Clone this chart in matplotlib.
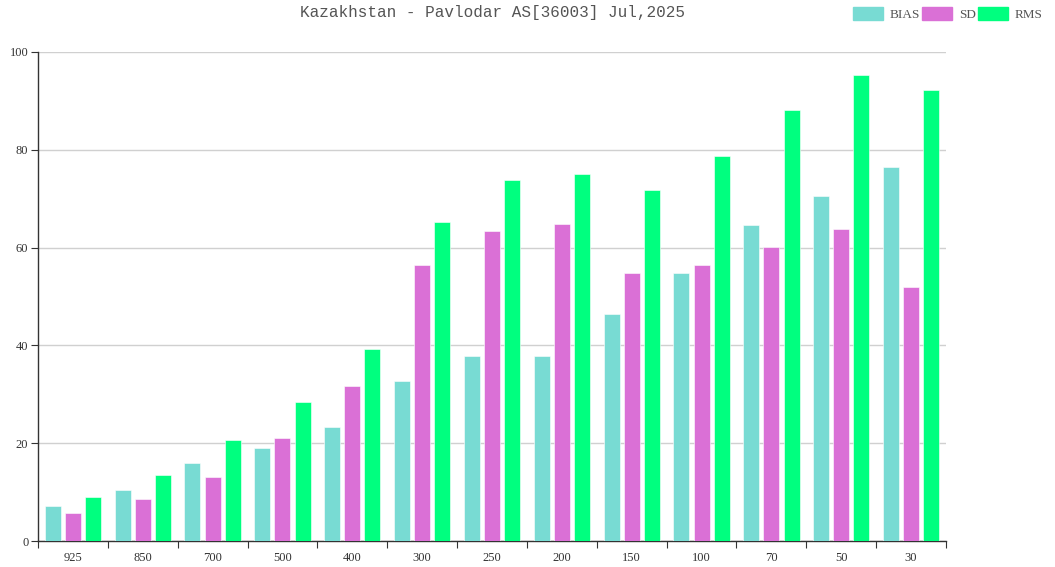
import numpy as np
import matplotlib
matplotlib.use("Agg")
import matplotlib.pyplot as plt
from matplotlib.patches import Patch

levels = ["925", "850", "700", "500", "400", "300", "250", "200", "150", "100", "70", "50", "30"]
bias = [7.2, 10.4, 16.0, 19.0, 23.3, 32.7, 37.9, 37.8, 46.4, 54.9, 64.7, 70.6, 76.4]
sd = [5.7, 8.5, 13.1, 21.1, 31.7, 56.4, 63.3, 64.9, 54.8, 56.4, 60.2, 63.9, 51.9]
rms = [9.1, 13.4, 20.6, 28.4, 39.3, 65.2, 73.8, 75.1, 71.8, 78.7, 88.2, 95.2, 92.3]
series_names = ["BIAS", "SD", "RMS"]
colors = ["#78dbd3", "#da70d6", "#00ff7f"]
title = "Kazakhstan - Pavlodar AS[36003] Jul,2025"

serif = ["Liberation Serif", "DejaVu Serif"]
mono = ["Liberation Mono", "DejaVu Sans Mono"]

fig = plt.figure(figsize=(10.55, 5.67), dpi=100)
ax = fig.add_axes([38 / 1055, 26 / 567, (946 - 38) / 1055, (541 - 52) / 567])

x = np.arange(len(levels))
step = 0.289
width = 0.229
for i, (vals, name, c) in enumerate(zip([bias, sd, rms], series_names, colors)):
    ax.bar(x + (i - 1) * step, vals, width=width, color=c, label=name,
           edgecolor="white", linewidth=0.4, zorder=3)

ax.set_xlim(-0.5, len(levels) - 0.5)
ax.set_ylim(0, 100)
ax.set_yticks([0, 20, 40, 60, 80, 100])
ax.yaxis.grid(True, color="#d0d0d0", linewidth=1, zorder=0)
ax.set_axisbelow(True)

ax.set_xticks(np.arange(-0.5, len(levels), 1.0))
ax.set_xticklabels([])
ax.set_xticks(x, minor=True)
ax.set_xticklabels(levels, minor=True)
ax.tick_params(axis="x", which="major", length=5, color="#333333", direction="out")
ax.tick_params(axis="x", which="minor", length=0, pad=8, labelsize=9, labelcolor="#333333")
ax.tick_params(axis="y", length=5, color="#333333", labelsize=9, labelcolor="#333333", pad=2)
for lbl in ax.get_xticklabels(minor=True) + ax.get_yticklabels():
    lbl.set_family(serif)

for s in ["top", "right"]:
    ax.spines[s].set_visible(False)
for s in ["left", "bottom"]:
    ax.spines[s].set_color("#333333")
    ax.spines[s].set_linewidth(1)

fig.text(492 / 1055, 1 - 12 / 567, title, ha="center", va="center",
         fontsize=11.5, family=mono, color="#555555")

handles = [Patch(facecolor=c, edgecolor=c, label=n) for c, n in zip(colors, series_names)]
leg = fig.legend(handles=handles, loc="center right", bbox_to_anchor=(1048 / 1055, 1 - 14 / 567),
                 ncol=3, frameon=False, handlelength=2.3, handleheight=1.2,
                 handletextpad=0.5, columnspacing=0.15, borderaxespad=0,
                 prop={"family": serif, "size": 9.5})
for t in leg.get_texts():
    t.set_color("#555555")

fig.savefig("out.png", dpi=100)
